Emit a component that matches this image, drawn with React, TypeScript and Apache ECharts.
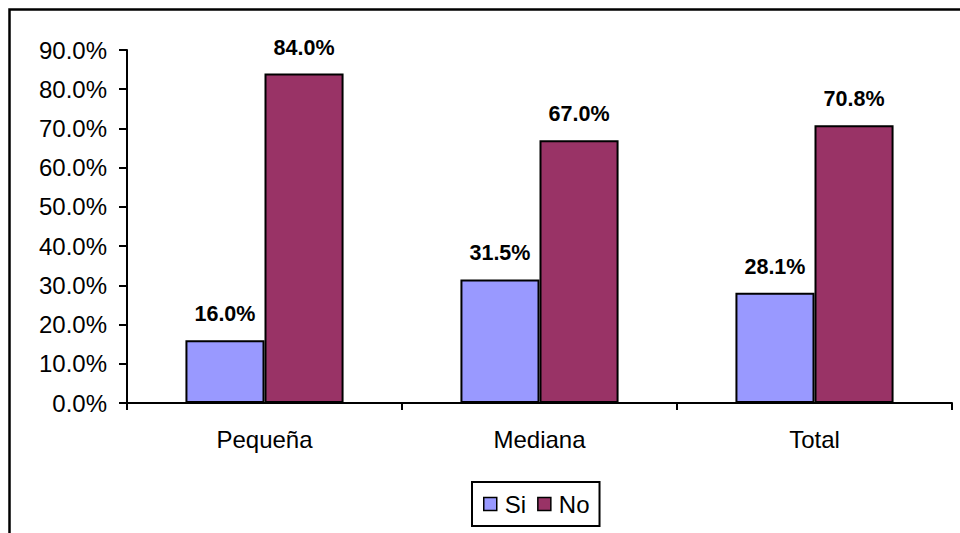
import React, { useEffect, useRef } from "react";
import * as echarts from "echarts";

const categories = ["Pequeña", "Mediana", "Total"];
const siValues = [16.0, 31.5, 28.1];
const noValues = [84.0, 67.0, 70.8];
const seriesNames = ["Si", "No"];
const yTicks = { min: 0, max: 90, interval: 10 };

const FONT = "'Liberation Sans', Arial, sans-serif";

export default function App() {
  const ref = useRef<HTMLDivElement>(null);
  useEffect(() => {
    if (!ref.current) return;
    const chart = echarts.init(ref.current, null, { renderer: "svg" });
    const barLabel = {
      show: true,
      position: "top",
      distance: 15,
      fontFamily: FONT,
      fontSize: 21.5,
      fontWeight: "bold",
      color: "#000",
      formatter: (p: any) => `${Number(p.value).toFixed(1)}%`,
    };
    chart.setOption({
      animation: false,
      backgroundColor: "#fff",
      graphic: [
        {
          type: "rect",
          left: 7,
          top: 7,
          shape: { width: 1000, height: 600 },
          style: { fill: "none", stroke: "#000", lineWidth: 2.5 },
          z: -1,
        },
      ],
      grid: { left: 127, right: 8, top: 50, bottom: 130, containLabel: false },
      legend: {
        data: seriesNames,
        left: 472,
        top: 482,
        padding: [10, 10, 10, 11],
        itemWidth: 13,
        itemHeight: 13,
        itemGap: 11,
        icon: "rect",
        borderColor: "#000",
        borderWidth: 2,
        itemStyle: { borderColor: "#000", borderWidth: 1.5 },
        textStyle: { fontFamily: FONT, fontSize: 24, color: "#000", padding: [0, 0, 0, 3] },
      },
      xAxis: {
        type: "category",
        data: categories,
        axisLine: { lineStyle: { color: "#000", width: 2 } },
        axisTick: { show: true, length: 7, alignWithLabel: false, lineStyle: { color: "#000", width: 2 } },
        axisLabel: { fontFamily: FONT, fontSize: 24, color: "#000", margin: 24 },
      },
      yAxis: {
        type: "value",
        min: yTicks.min,
        max: yTicks.max,
        interval: yTicks.interval,
        splitLine: { show: false },
        axisLine: { show: true, lineStyle: { color: "#000", width: 2 } },
        axisTick: { show: true, length: 8, lineStyle: { color: "#000", width: 2 } },
        axisLabel: {
          fontFamily: FONT,
          fontSize: 24,
          color: "#000",
          margin: 20,
          formatter: (v: number) => `${v.toFixed(1)}%`,
        },
      },
      series: [
        {
          name: seriesNames[0],
          type: "bar",
          data: siValues,
          barGap: "0%",
          barCategoryGap: "42.5%",
          itemStyle: { color: "#9999FF", borderColor: "#000", borderWidth: 2 },
          label: barLabel,
        },
        {
          name: seriesNames[1],
          type: "bar",
          data: noValues,
          barGap: "0%",
          barCategoryGap: "42.5%",
          itemStyle: { color: "#993366", borderColor: "#000", borderWidth: 2 },
          label: barLabel,
        },
      ],
    });
    return () => chart.dispose();
  }, []);
  return (
    <div
      ref={ref}
      style={{ position: "fixed", left: 0, top: 0, width: 960, height: 533 }}
    />
  );
}
